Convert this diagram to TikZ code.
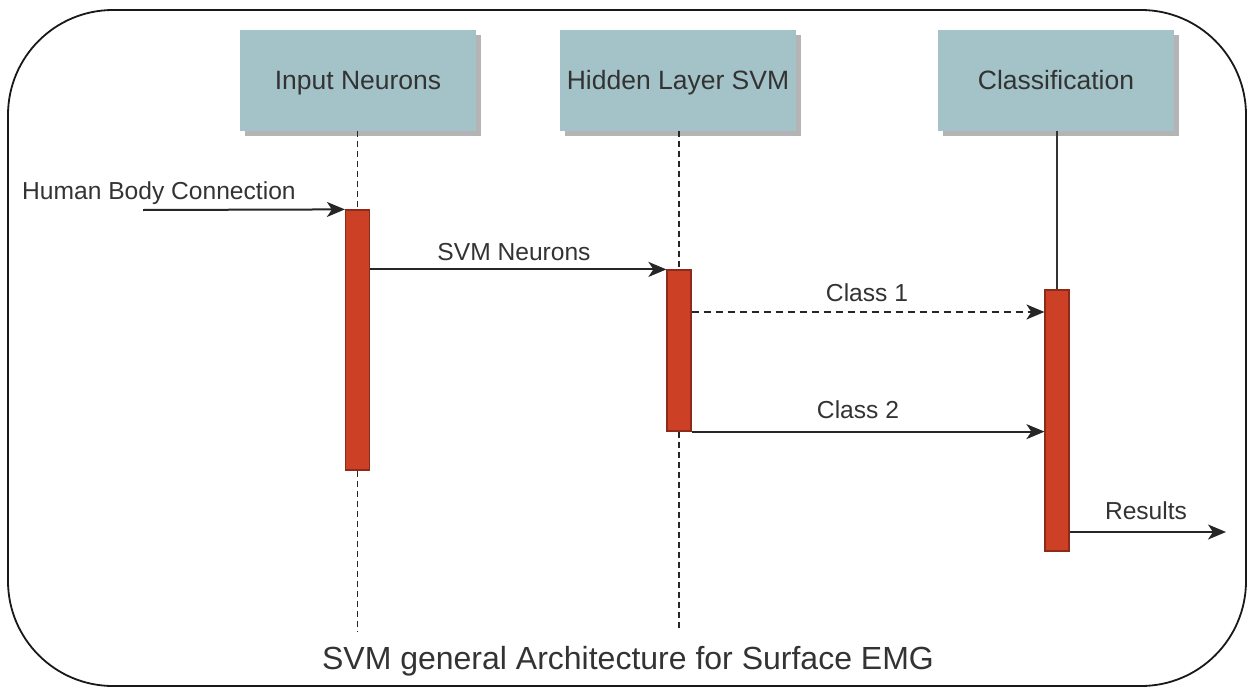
\documentclass[tikz,border=0pt]{standalone}
\usepackage{fontspec}
\setmainfont{Liberation Sans}
\usetikzlibrary{arrows.meta,shadows}
\definecolor{headfill}{HTML}{A3C3C8}
\definecolor{barfill}{HTML}{CC4125}
\definecolor{barline}{HTML}{8E2A1A}
\definecolor{ink}{HTML}{333333}
\definecolor{shade}{HTML}{B4B4B4}

\tikzset{
  frame/.style={draw=black!90, line width=1.8pt, rounded corners=105pt,
    minimum width=1238pt, minimum height=676pt, inner sep=0pt},
  head/.style={fill=headfill, minimum width=236pt, minimum height=101pt, inner sep=0pt,
    font=\fontsize{26.5}{30}\selectfont, text=ink, text height=19pt, text depth=0pt,
    drop shadow={shadow xshift=5pt, shadow yshift=-5pt, fill=shade, opacity=1}},
  bar/.style={fill=barfill, draw=barline, line width=1.2pt, minimum width=24pt, inner sep=0pt},
  life/.style={draw=black!85, line width=1.8pt, dash pattern=on 6pt off 4pt},
  lifesolid/.style={draw=ink, line width=1.8pt},
  msg/.style={draw=black!85, line width=2pt, -{Stealth[length=18pt,width=15pt,inset=5pt]}},
  lbl/.style={font=\fontsize{24.6}{28}\selectfont, text=ink, inner sep=0pt},
  captiontext/.style={font=\fontsize{32}{36}\selectfont, text=ink, inner sep=0pt}
}

\begin{document}
\begin{tikzpicture}[x=1pt,y=-1pt]
\useasboundingbox (0,0) rectangle (1249,688);

% outer frame
\node[frame] (frame) at (627,348) {};

% participants
\node[head] (inp) at (358,80) {Input Neurons};
\node[head] (hid) at (678,80) {Hidden Layer SVM};
\node[head] (cls) at (1056,80) {Classification};

% activation bars
\node[bar, minimum height=260pt] (b1) at (357.5,340) {};
\node[bar, minimum height=161pt] (b2) at (679,350.5) {};
\node[bar, minimum height=261pt] (b3) at (1057,420.5) {};

% free ends of lifelines and messages
\coordinate (inend) at (357.5,632);
\coordinate (hidend) at (679,630);
\coordinate (hstart) at (143,210);
\coordinate (c1y) at (0,312);
\coordinate (ry) at (0,532);
\coordinate (rend) at (1226,532);

% lifelines
\draw[life] (inp.south -| b1.north) -- (b1.north);
\draw[life] (b1.south) -- (inend);
\draw[life] (hid.south -| b2.north) -- (b2.north);
\draw[life] (b2.south) -- (hidend);
\draw[lifesolid] (cls.south -| b3.north) -- (b3.north);

% messages
\draw[msg] (hstart) -- (b1.north west);
\draw[msg] (b1.east |- b2.north) -- (b2.north west);
\draw[msg, dash pattern=on 7pt off 5pt] (b2.east |- c1y) -- (b3.west |- c1y);
\draw[msg] (b2.south east) -- (b3.west |- b2.south);
\draw[msg] (b3.east |- ry) -- (rend);

% message labels
\node[lbl, anchor=base west] (lhb) at (22,199) {Human Body Connection};
\node[lbl, anchor=base] (lsvm) at (514,260) {SVM Neurons};
\node[lbl, anchor=base] (lc1) at (867,301) {Class 1};
\node[lbl, anchor=base] (lc2) at (858,418) {Class 2};
\node[lbl, anchor=base] (lres) at (1146,519) {Results};

% caption
\node[captiontext, anchor=base] (title) at (628,669) {SVM general Architecture for Surface EMG};
\end{tikzpicture}
\end{document}
